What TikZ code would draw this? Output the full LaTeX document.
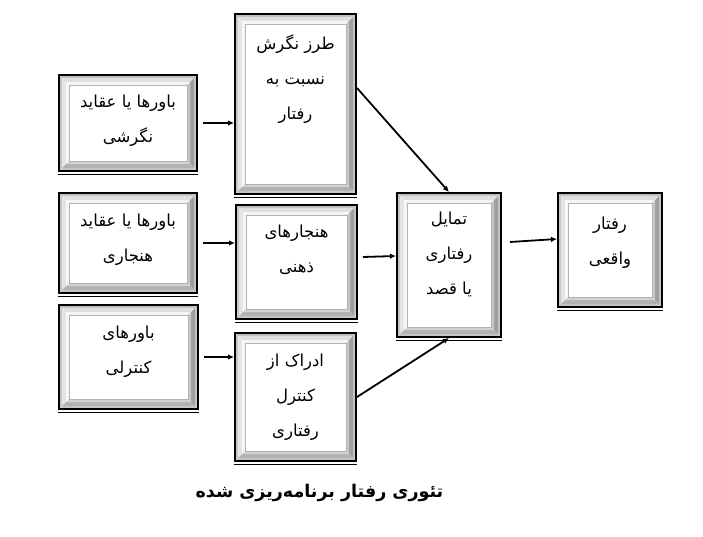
\documentclass[tikz,border=0pt]{standalone}
\usepackage{fontspec}
\newfontfamily\arabicfont[Script=Arabic]{DejaVu Sans}
\TeXXeTstate=1
\newcommand{\farsi}[1]{\beginR #1\endR}
\usetikzlibrary{arrows.meta}

\begin{document}
\begin{tikzpicture}[x=1pt,y=-1pt]
		\tikzstyle{bevel}=[draw,line width=2pt,fill=white,inner sep=0pt,
		path picture={
			\path (path picture bounding box.north west) coordinate (pnw)
			(path picture bounding box.north east) coordinate (pne)
			(path picture bounding box.south west) coordinate (psw)
			(path picture bounding box.south east) coordinate (pse);
			% bands of the frame, outside in
			\foreach \a/\b/\ct/\cl/\cr/\cb in {0/3/50/45/45/45, 3/7/25/20/75/60, 7/10/8/6/45/35} {
				\fill[gray!\ct] ([shift={(\a pt,-\a pt)}]pnw) -- ([shift={(-\a pt,-\a pt)}]pne) -- ([shift={(-\b pt,-\b pt)}]pne) -- ([shift={(\b pt,-\b pt)}]pnw) -- cycle;
				\fill[gray!\cl] ([shift={(\a pt,-\a pt)}]pnw) -- ([shift={(\b pt,-\b pt)}]pnw) -- ([shift={(\b pt,\b pt)}]psw) -- ([shift={(\a pt,\a pt)}]psw) -- cycle;
				\fill[gray!\cr] ([shift={(-\a pt,-\a pt)}]pne) -- ([shift={(-\b pt,-\b pt)}]pne) -- ([shift={(-\b pt,\b pt)}]pse) -- ([shift={(-\a pt,\a pt)}]pse) -- cycle;
				\fill[gray!\cb] ([shift={(\a pt,\a pt)}]psw) -- ([shift={(\b pt,\b pt)}]psw) -- ([shift={(-\b pt,\b pt)}]pse) -- ([shift={(-\a pt,\a pt)}]pse) -- cycle;
			}
			\draw[gray!60,line width=0.5pt,fill=white] ([shift={(10pt,-10pt)}]pnw) rectangle ([shift={(-10pt,10pt)}]pse);
		},
		append after command={([yshift=-2.3pt]\tikzlastnode.south west) edge[draw,line width=1.1pt,-] ([yshift=-2.3pt]\tikzlastnode.south east)}]
		\tikzstyle{txt}=[align=center,inner sep=0pt,font=\arabicfont\fontsize{16.5pt}{35pt}\selectfont]
		\tikzstyle{arr}=[line width=1.8pt,-{Latex[length=6pt,width=5.5pt]}]
		\useasboundingbox (0,0) rectangle (703,537);
		% left column
		\node[bevel,minimum width=138pt,minimum height=96pt] (ba) at (128,123) {};
		\node[bevel,minimum width=138pt,minimum height=100pt] (bc) at (128,243) {};
		\node[bevel,minimum width=139pt,minimum height=104pt] (be) at (128.5,357) {};
		% middle column
		\node[bevel,minimum width=121pt,minimum height=180pt] (bb) at (295.5,104) {};
		\node[bevel,minimum width=121pt,minimum height=114pt] (bd) at (296.5,262) {};
		\node[bevel,minimum width=121pt,minimum height=128pt] (bf) at (295.5,397) {};
		% right
		\node[bevel,minimum width=104pt,minimum height=144pt] (bg) at (449,265) {};
		\node[bevel,minimum width=104pt,minimum height=114pt] (bh) at (610,250) {};
		% texts
		\node[txt] (ta) at ([yshift=2.5pt]ba.center) {\farsi{باورها یا عقاید}\\\farsi{نگرشی}};
		\node[txt] (tc) at ([yshift=3.5pt]bc.center) {\farsi{باورها یا عقاید}\\\farsi{هنجاری}};
		\node[txt] (te) at ([yshift=5pt]be.center) {\farsi{باورهای}\\\farsi{کنترلی}};
		\node[txt] (tb) at ([yshift=25pt]bb.center) {\farsi{طرز نگرش}\\\farsi{نسبت به}\\\farsi{رفتار}};
		\node[txt] (td) at ([yshift=12pt]bd.center) {\farsi{هنجارهای}\\\farsi{ذهنی}};
		\node[txt] (tf) at (bf.center) {\farsi{ادراک از}\\\farsi{کنترل}\\\farsi{رفتاری}};
		\node[txt] (tg) at ([yshift=10.5pt]bg.center) {\farsi{تمایل}\\\farsi{رفتاری}\\\farsi{یا قصد}};
		\node[txt] (th) at ([yshift=7.5pt]bh.center) {\farsi{رفتار}\\\farsi{واقعی}};
		\node[font=\arabicfont\bfseries\fontsize{17.5pt}{20pt}\selectfont] (title) at (319.5,493) {\farsi{تئوری رفتار برنامه‌ریزی شده}};
		% connectors
		\draw[arr] ([xshift=5pt]ba.east) -- (ba.east -| bb.west);
		\draw[arr] ([xshift=5pt]bc.east) -- (bc.east -| bd.west);
		\draw[arr] ([xshift=5pt]be.east) -- (be.east -| bf.west);
		\draw[arr] ([yshift=16pt]bb.east) -- (bg.north);
		\draw[arr] ([shift={(5pt,5pt)}]bd.east) -- ([yshift=9pt]bg.west);
		\draw[arr] (bf.east) -- (bg.south);
		\draw[arr] ([shift={(8pt,23pt)}]bg.east) -- ([yshift=11pt]bh.west);
\end{tikzpicture}
\end{document}
